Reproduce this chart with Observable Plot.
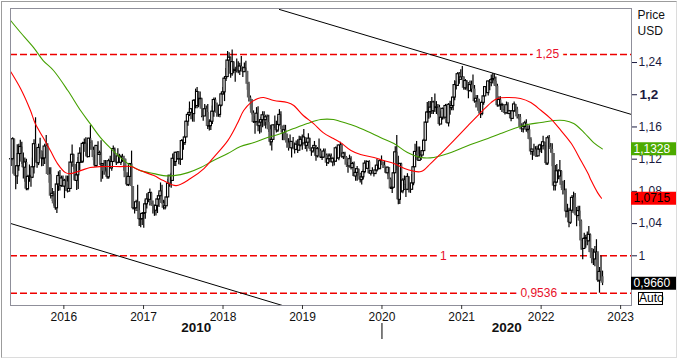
<!DOCTYPE html>
<html><head><meta charset="utf-8">
<script src="https://cdn.jsdelivr.net/npm/d3@7"></script>
<script src="https://cdn.jsdelivr.net/npm/@observablehq/plot@0.6"></script>
<style>
html,body{margin:0;padding:0;background:#fff;}
#wrap{position:relative;width:679px;height:359px;overflow:hidden;font-family:"Liberation Sans",Arial,sans-serif;}
#chart{position:absolute;left:0;top:0;}
#border{position:absolute;left:1px;top:1px;width:674px;height:355px;border-top:1px solid #9c9c9c;border-left:1px solid #9c9c9c;border-right:1px solid #dcdcdc;border-bottom:1px solid #dcdcdc;pointer-events:none;}
#auto{position:absolute;left:638px;top:292px;width:23px;height:11px;border:1px solid #000;font-size:12px;line-height:11px;text-align:center;background:#fff;color:#000;}
</style></head>
<body><div id="wrap"><div id="chart"></div><div id="auto">Auto</div><div id="border"></div></div>
<script>
// ---- weekly EUR/USD candles (week starting Monday), open = previous close ----
const startWeek = "2015-05-04";
const firstOpen = 1.1198;
const weeklyClose = [
 // 2015
 1.1200,1.1448,1.1013,1.0986, 1.1113,1.1264,1.1351,1.1163,1.1094, 1.1159,1.0828,1.0980,1.0982, 1.0970,1.1100,1.1386,1.1182,1.1150, 1.1339,1.1295,1.1200,1.1210, 1.1357,1.1350,1.1010,1.1006, 1.0740,1.0770,1.0645,1.0590,1.0886, 1.0990,1.0867,1.0960,1.0860,
 // 2016
 1.0932,1.0917,1.0797,1.0830, 1.1158,1.1255,1.1130,1.0930,1.1000, 1.1153,1.1268,1.1168,1.1390, 1.1400,1.1285,1.1225,1.1455, 1.1400,1.1310,1.1220,1.1115,1.1365, 1.1253,1.1275,1.1120,1.1140, 1.1050,1.1040,1.0975,1.1175, 1.1085,1.1165,1.1325,1.1200,1.1155, 1.1235,1.1155,1.1225,1.1205, 1.1200,1.0970,1.0880,1.0980,1.1140, 1.0860,1.0585,1.0590,1.0665, 1.0560,1.0450,1.0455,1.0520,
 // 2017
 1.0530,1.0640,1.0700,1.0695,1.0780, 1.0640,1.0615,1.0560,1.0620, 1.0700,1.0740,1.0800,1.0650, 1.0590,1.0615,1.0725,1.0895, 1.0995,1.0930,1.1205,1.1165,1.1280, 1.1195,1.1200,1.1195,1.1425, 1.1400,1.1470,1.1665,1.1750,1.1775, 1.1820,1.1760,1.1925,1.1860, 1.2035,1.1945,1.1950,1.1820, 1.1730,1.1820,1.1780,1.1605,1.1610, 1.1665,1.1790,1.1935,1.1895, 1.1770,1.1750,1.1865,1.2005,
 // 2018
 1.2030,1.2200,1.2220,1.2425,1.2460, 1.2255,1.2405,1.2295,1.2310, 1.2305,1.2290,1.2350,1.2320, 1.2280,1.2330,1.2290,1.2130,1.1960, 1.1935,1.1770,1.1655,1.1660, 1.1765,1.1610,1.1655,1.1685, 1.1745,1.1685,1.1720,1.1655,1.1565, 1.1410,1.1440,1.1620,1.1600, 1.1555,1.1625,1.1750,1.1605, 1.1525,1.1560,1.1510,1.1400,1.1385, 1.1335,1.1415,1.1335,1.1315, 1.1380,1.1305,1.1370,1.1440,1.1395,
 // 2019
 1.1470,1.1365,1.1405,1.1455, 1.1325,1.1295,1.1335,1.1365, 1.1235,1.1325,1.1300,1.1215, 1.1220,1.1295,1.1245,1.1150,1.1200, 1.1235,1.1160,1.1205,1.1170, 1.1335,1.1210,1.1370,1.1370, 1.1225,1.1270,1.1220,1.1125,1.1110, 1.1200,1.1090,1.1140,1.0985, 1.1030,1.1075,1.1015,1.0940,1.0975, 1.1040,1.1145,1.1080,1.1165, 1.1020,1.1050,1.1020,1.1015, 1.1060,1.1120,1.1080,1.1175,1.1160,
 // 2020
 1.1120,1.1090,1.1025,1.1095, 1.0945,1.0830,1.0845,1.1025, 1.1285,1.1105,1.0695,1.1140,1.0800, 1.0935,1.0875,1.0820,1.0980, 1.0840,1.0820,1.0900,1.1100, 1.1290,1.1255,1.1180,1.1220,1.1245, 1.1300,1.1430,1.1655,1.1780, 1.1785,1.1840,1.1795,1.1905,1.1835, 1.1845,1.1840,1.1630,1.1715, 1.1825,1.1715,1.1860,1.1645, 1.1875,1.1835,1.1860,1.1965,1.2120, 1.2110,1.2255,1.2185,1.2215,
 // 2021
 1.2215,1.2080,1.2170,1.2135, 1.2045,1.2120,1.2120,1.2070, 1.1915,1.1950,1.1905,1.1795,1.1760, 1.1900,1.1980,1.2095,1.2020, 1.2165,1.2150,1.2180,1.2195,1.2165, 1.2105,1.1865,1.1935,1.1865, 1.1875,1.1810,1.1770,1.1870, 1.1760,1.1795,1.1700,1.1795,1.1880, 1.1815,1.1725,1.1720,1.1595, 1.1570,1.1600,1.1645,1.1560, 1.1565,1.1445,1.1290,1.1320,1.1315, 1.1315,1.1235,1.1320,1.1370,
 // 2022
 1.1360,1.1410,1.1345,1.1145,1.1460, 1.1350,1.1320,1.1270,1.0865, 1.0910,1.1050,1.0985,1.1050, 1.0875,1.0810,1.0800,1.0545, 1.0550,1.0410,1.0560,1.0720,1.0720, 1.0520,1.0495,1.0555,1.0430, 1.0185,1.0085,1.0210,1.0220, 1.0180,1.0260,1.0040,0.9965,0.9955, 1.0040,1.0015,0.9690,0.9800, 0.9740,0.9660
];
const weeklyHigh = [
 // 2015
 1.1290,1.1467,1.1450,1.1032, 1.1380,1.1386,1.1436,1.1410,1.1278, 1.1215,1.1200,1.1000,1.1128, 1.1000,1.1214,1.1441,1.1714,1.1332, 1.1387,1.1460,1.1300,1.1260, 1.1385,1.1495,1.1390,1.1095, 1.1095,1.0835,1.0800,1.0690,1.0980, 1.1043,1.1060,1.0990,1.0990,
 // 2016
 1.0950,1.0990,1.0990,1.0985, 1.1200,1.1376,1.1260,1.1070,1.1040, 1.1220,1.1342,1.1280,1.1410, 1.1450,1.1465,1.1390,1.1460, 1.1616,1.1430,1.1350,1.1250,1.1370, 1.1415,1.1300,1.1428,1.1140, 1.1185,1.1185,1.1080,1.1200, 1.1235,1.1190,1.1365,1.1340,1.1235, 1.1330,1.1260,1.1250,1.1260, 1.1235,1.1165,1.1030,1.1000,1.1145, 1.1300,1.0830,1.0660,1.0690, 1.0875,1.0670,1.0470,1.0475,
 // 2017
 1.0630,1.0690,1.0770,1.0775,1.0830, 1.0790,1.0680,1.0630,1.0630, 1.0710,1.0780,1.0905,1.0875, 1.0690,1.0680,1.0780,1.0950, 1.0995,1.1025,1.1265,1.1270,1.1285, 1.1295,1.1295,1.1215,1.1445, 1.1440,1.1490,1.1680,1.1775,1.1910, 1.1830,1.1810,1.1940,1.2070, 1.2090,1.2000,1.2035,1.1955, 1.1790,1.1880,1.1860,1.1880,1.1690, 1.1680,1.1860,1.1960,1.1960, 1.1860,1.1860,1.1880,1.2025,
 // 2018
 1.2090,1.2220,1.2325,1.2537,1.2520, 1.2470,1.2555,1.2410,1.2340, 1.2445,1.2410,1.2390,1.2475, 1.2345,1.2395,1.2415,1.2290,1.2155, 1.1985,1.1940,1.1800,1.1730, 1.1840,1.1850,1.1660,1.1720, 1.1790,1.1790,1.1745,1.1750,1.1745, 1.1620,1.1445,1.1625,1.1735, 1.1670,1.1720,1.1815,1.1790, 1.1610,1.1620,1.1620,1.1500,1.1455, 1.1500,1.1420,1.1470,1.1400, 1.1425,1.1440,1.1485,1.1480,1.1500,
 // 2019
 1.1570,1.1470,1.1425,1.1515, 1.1460,1.1330,1.1370,1.1420, 1.1370,1.1345,1.1450,1.1325, 1.1255,1.1325,1.1325,1.1265,1.1265, 1.1265,1.1265,1.1215,1.1215, 1.1350,1.1350,1.1375,1.1410, 1.1385,1.1285,1.1285,1.1230,1.1160, 1.1250,1.1230,1.1160,1.1165, 1.1085,1.1110,1.1075,1.1025,1.0980, 1.1065,1.1180,1.1180,1.1175, 1.1180,1.1055,1.1095,1.1035, 1.1115,1.1200,1.1150,1.1190,1.1240,
 // 2020
 1.1165,1.1175,1.1100,1.1100, 1.1095,1.0965,1.0865,1.1055, 1.1355,1.1495,1.1235,1.1150,1.1150, 1.0960,1.0990,1.0890,1.1020, 1.0980,1.0875,1.1010,1.1145, 1.1385,1.1420,1.1350,1.1350,1.1300, 1.1370,1.1450,1.1655,1.1905, 1.1915,1.1915,1.1965,1.1920,1.2010, 1.1915,1.1880,1.1870,1.1790, 1.1835,1.1830,1.1880,1.1870, 1.1890,1.1920,1.1895,1.1965,1.2175, 1.2165,1.2275,1.2275,1.2310,
 // 2021
 1.2350,1.2225,1.2190,1.2175, 1.2150,1.2170,1.2170,1.2245, 1.2115,1.1990,1.1990,1.1945,1.1810, 1.1925,1.1995,1.2080,1.2150, 1.2170,1.2185,1.2245,1.2265,1.2255, 1.2220,1.2130,1.1975,1.1975, 1.1895,1.1880,1.1850,1.1910, 1.1900,1.1805,1.1800,1.1805,1.1910, 1.1880,1.1845,1.1755,1.1755, 1.1640,1.1625,1.1670,1.1690, 1.1615,1.1615,1.1465,1.1320,1.1385, 1.1355,1.1360,1.1360,1.1385,
 // 2022
 1.1365,1.1485,1.1370,1.1370,1.1485, 1.1495,1.1395,1.1390,1.1235, 1.1120,1.1135,1.1070,1.1185, 1.1055,1.0925,1.0935,1.0830, 1.0640,1.0590,1.0590,1.0750,1.0790, 1.0775,1.0600,1.0615,1.0615, 1.0445,1.0200,1.0280,1.0255, 1.0295,1.0365,1.0270,1.0090,1.0080, 1.0115,1.0200,1.0050,0.9855, 0.9999,0.9810
];
const weeklyLow = [
 // 2015
 1.1108,1.1177,1.0996,1.0819, 1.0887,1.1050,1.1183,1.1133,1.0954, 1.0915,1.0809,1.0808,1.0913, 1.0850,1.0959,1.1017,1.1160,1.1088, 1.1120,1.1260,1.1105,1.1110, 1.1133,1.1350,1.1000,1.0900, 1.0707,1.0675,1.0615,1.0565,1.0524, 1.0800,1.0805,1.0850,1.0850,
 // 2016
 1.0710,1.0800,1.0780,1.0810, 1.0830,1.1100,1.1070,1.0930,1.0810, 1.0823,1.1060,1.1145,1.1145, 1.1330,1.1235,1.1215,1.1220, 1.1385,1.1310,1.1180,1.1100,1.1100, 1.1260,1.1130,1.0912,1.0950, 1.1000,1.1030,1.0950,1.0950, 1.1080,1.1050,1.1160,1.1170,1.1120, 1.1140,1.1150,1.1120,1.1160, 1.1050,1.0970,1.0860,1.0860,1.0980, 1.0850,1.0570,1.0520,1.0550, 1.0550,1.0365,1.0350,1.0375,
 // 2017
 1.0341,1.0455,1.0580,1.0660,1.0620, 1.0620,1.0520,1.0490,1.0495, 1.0525,1.0600,1.0720,1.0640, 1.0570,1.0570,1.0640,1.0820, 1.0850,1.0840,1.0930,1.1110,1.1110, 1.1195,1.1130,1.1120,1.1185, 1.1310,1.1370,1.1480,1.1610,1.1730, 1.1690,1.1660,1.1660,1.1825, 1.1825,1.1840,1.1860,1.1715, 1.1670,1.1760,1.1730,1.1570,1.1550, 1.1555,1.1630,1.1720,1.1830, 1.1720,1.1720,1.1715,1.1850,
 // 2018
 1.1995,1.1915,1.2165,1.2215,1.2335, 1.2205,1.2230,1.2265,1.2155, 1.2270,1.2260,1.2240,1.2290, 1.2215,1.2285,1.2280,1.2055,1.1910, 1.1820,1.1750,1.1645,1.1510, 1.1650,1.1540,1.1510,1.1525, 1.1590,1.1610,1.1575,1.1615,1.1530, 1.1365,1.1300,1.1445,1.1580, 1.1525,1.1530,1.1605,1.1570, 1.1430,1.1430,1.1430,1.1335,1.1300, 1.1340,1.1215,1.1320,1.1265, 1.1315,1.1270,1.1340,1.1350,1.1310,
 // 2019
 1.1400,1.1320,1.1290,1.1405, 1.1320,1.1235,1.1275,1.1355, 1.1175,1.1215,1.1280,1.1210, 1.1185,1.1210,1.1225,1.1110,1.1135, 1.1160,1.1155,1.1105,1.1115, 1.1160,1.1200,1.1180,1.1345, 1.1210,1.1195,1.1200,1.1100,1.1025, 1.1090,1.1065,1.1050,1.0985, 1.0925,1.0925,1.0990,1.0905,1.0880, 1.0940,1.1020,1.1075,1.1070, 1.1015,1.0990,1.1015,1.0980, 1.1015,1.1040,1.1065,1.1065,1.1125,
 // 2020
 1.1085,1.1090,1.1020,1.0990, 1.0945,1.0830,1.0775,1.0845, 1.1055,1.1055,1.0635,1.0636,1.0780, 1.0770,1.0810,1.0725,1.0810, 1.0780,1.0775,1.0870,1.0870, 1.1110,1.1240,1.1170,1.1170,1.1185, 1.1250,1.1330,1.1420,1.1650, 1.1695,1.1710,1.1755,1.1755,1.1780, 1.1755,1.1740,1.1610,1.1630, 1.1685,1.1690,1.1700,1.1640, 1.1600,1.1745,1.1800,1.1800,1.1925, 1.2060,1.2110,1.2130,1.2190,
 // 2021
 1.2195,1.2055,1.2055,1.2060, 1.1950,1.2035,1.2025,1.2070, 1.1895,1.1835,1.1875,1.1760,1.1705, 1.1740,1.1870,1.1990,1.2015, 1.1985,1.2050,1.2100,1.2135,1.2105, 1.2095,1.1845,1.1845,1.1805, 1.1780,1.1770,1.1750,1.1760, 1.1755,1.1705,1.1665,1.1700,1.1780, 1.1770,1.1700,1.1685,1.1565, 1.1530,1.1525,1.1585,1.1535, 1.1515,1.1435,1.1250,1.1185,1.1235, 1.1225,1.1220,1.1265,1.1280,
 // 2022
 1.1270,1.1315,1.1300,1.1120,1.1120, 1.1345,1.1280,1.1105,1.0805, 1.0805,1.0900,1.0945,1.0945, 1.0835,1.0755,1.0760,1.0470, 1.0490,1.0350,1.0390,1.0530,1.0630, 1.0500,1.0360,1.0470,1.0360, 1.0070,0.9950,1.0080,1.0095, 1.0125,1.0170,1.0035,0.9900,0.9880, 0.9865,0.9955,0.9670,0.9536, 0.9725,0.9630
];

// ---- moving averages: [decimal year, value] ----
const maRed = [
 [2015.33,1.2288],[2015.455,1.2077],[2015.58,1.1804],[2015.64,1.1642],[2015.74,1.1468],[2015.83,1.1307],[2015.92,1.1145],
 [2016.02,1.1033],[2016.08,1.1021],[2016.21,1.1058],[2016.33,1.1096],[2016.46,1.1108],[2016.71,1.1108],[2016.84,1.1108],[2016.96,1.1058],
 [2017.13,1.0996],[2017.25,1.0934],[2017.41,1.0872],[2017.59,1.0959],[2017.76,1.1083],[2017.88,1.1220],
 [2018.06,1.1431],[2018.18,1.1642],[2018.26,1.1804],[2018.35,1.1903],[2018.44,1.1953],[2018.51,1.1965],[2018.64,1.1928],[2018.81,1.1903],[2018.89,1.1866],
 [2019.01,1.1742],[2019.14,1.1642],[2019.26,1.1530],[2019.39,1.1456],[2019.48,1.1406],[2019.61,1.1307],[2019.73,1.1257],[2019.90,1.1220],
 [2020.02,1.1183],[2020.15,1.1145],[2020.32,1.1071],[2020.49,1.1046],[2020.61,1.1145],[2020.74,1.1270],[2020.90,1.1431],
 [2021.08,1.1617],[2021.24,1.1779],[2021.37,1.1903],[2021.45,1.1953],[2021.58,1.1965],[2021.74,1.1953],[2021.87,1.1903],
 [2022.00,1.1804],[2022.12,1.1704],[2022.25,1.1555],[2022.38,1.1394],[2022.50,1.1183],[2022.59,1.1021],[2022.63,1.0934],[2022.71,1.0785],[2022.76,1.0715]
];
const maGreen = [
 [2015.33,1.2922],[2015.455,1.2773],[2015.62,1.2586],[2015.74,1.2425],[2015.87,1.2301],
 [2016.05,1.2052],[2016.21,1.1804],[2016.33,1.1642],[2016.46,1.1468],[2016.59,1.1332],[2016.71,1.1220],[2016.84,1.1120],[2016.96,1.1058],
 [2017.13,1.1021],[2017.25,1.0996],[2017.38,1.0996],[2017.56,1.1033],[2017.72,1.1096],[2017.88,1.1183],
 [2018.06,1.1270],[2018.22,1.1357],[2018.39,1.1406],[2018.56,1.1468],[2018.73,1.1518],[2018.89,1.1580],
 [2019.06,1.1642],[2019.23,1.1692],[2019.39,1.1692],[2019.48,1.1667],[2019.64,1.1617],[2019.82,1.1543],[2019.98,1.1468],
 [2020.15,1.1394],[2020.32,1.1282],[2020.49,1.1220],[2020.65,1.1220],[2020.83,1.1270],[2020.99,1.1332],
 [2021.15,1.1394],[2021.33,1.1456],[2021.49,1.1518],[2021.66,1.1580],[2021.83,1.1630],
 [2022.00,1.1655],[2022.16,1.1680],[2022.29,1.1680],[2022.41,1.1642],[2022.54,1.1530],[2022.66,1.1406],[2022.77,1.1328]
];

// ---- trend channel (two points each) ----
const trendUpper = [["2018-09-17",1.3059],["2023-02-20",1.1755]];
const trendLower = [["2015-05-01",1.0402],["2018-10-01",0.9383]];

// ---- horizontal levels ----
const levelValues = [1.25, 1, 0.9536];
const levelLabelYears = [2022.08, 2020.77, 2021.97];

// ---- axis ----
const yTicks = [1, 1.04, 1.08, 1.12, 1.16, 1.2, 1.24];
const boldTick = 1.2;
const yearTicks = [2016, 2017, 2018, 2019, 2020, 2021, 2022, 2023];
const decades = [{label: "2010", from: null, to: 2020}, {label: "2020", from: 2020, to: null}];
const xDomain = ["2015-05-01", "2023-02-20"];
const yDomain = [0.9383, 1.3071];

// ---- last values ----
const lastValues = [
 {value: 1.1328, bg: "#4caa00", fg: "#ffffff"},
 {value: 1.0715, bg: "#ff0000", fg: "#000000"},
 {value: 0.9660, bg: "#000000", fg: "#ffffff"}
];

const comma = (v, n) => (n == null ? String(+v.toFixed(4)) : v.toFixed(n)).replace(".", ",");
const yearToDate = y => { const f = Math.floor(y); const a = Date.UTC(f,0,1), b = Date.UTC(f+1,0,1); return new Date(a + (y-f)*(b-a)); };
const DAY = 864e5;

const n = Math.min(weeklyClose.length, weeklyHigh.length, weeklyLow.length);
const candles = [];
for (let i = 0; i < n; i++) {
  const open = i ? weeklyClose[i-1] : firstOpen;
  const close = weeklyClose[i];
  candles.push({
    date: d3.utcMonday.offset(new Date(startWeek), i),
    open, close,
    high: Math.max(weeklyHigh[i], open, close),
    low: Math.min(weeklyLow[i], open, close)
  });
}
const up = candles.filter(d => d.close >= d.open);
const down = candles.filter(d => d.close < d.open);

const xd = xDomain.map(s => new Date(s));
const decadeMarks = decades.map(d => {
  const a = d.from == null ? xd[0] : yearToDate(d.from);
  const b = d.to == null ? xd[1] : yearToDate(d.to);
  return {label: d.label, mid: new Date((+a + +b) / 2)};
});

const redPts = maRed.map(([y, v]) => ({date: yearToDate(y), v}));
const greenPts = maGreen.map(([y, v]) => ({date: yearToDate(y), v}));
const up2 = trendUpper.map(([d, v]) => ({date: new Date(d), v}));
const lo2 = trendLower.map(([d, v]) => ({date: new Date(d), v}));
const levelLabels = levelValues.map((v, i) => ({v, date: yearToDate(levelLabelYears[i]), text: comma(v)}));

const chart = Plot.plot({
  width: 679, height: 359,
  marginLeft: 10, marginRight: 48, marginTop: 8, marginBottom: 54,
  x: {type: "utc", domain: xd},
  y: {domain: yDomain},
  color: {type: "identity"},
  style: {background: "transparent", fontFamily: "'Liberation Sans', Arial, sans-serif", fontSize: "12px", color: "#000", overflow: "visible"},
  marks: [
    Plot.ruleY(levelValues, {y: d => d, stroke: "#ee0000", strokeWidth: 1.5, strokeDasharray: "7,3"}),
    Plot.line(up2, {x: "date", y: "v", stroke: "#000", strokeWidth: 1, clip: true}),
    Plot.line(lo2, {x: "date", y: "v", stroke: "#000", strokeWidth: 1, clip: true}),
    Plot.ruleX(candles, {x: "date", y1: "low", y2: "high", stroke: "#000", strokeWidth: 1.2}),
    Plot.rect(down, {x1: d => new Date(+d.date - 7*DAY), x2: d => new Date(+d.date + 7*DAY), y1: "open", y2: "close", fill: "#626262"}),
    Plot.rect(up, {x1: d => new Date(+d.date - 5.2*DAY), x2: d => new Date(+d.date + 5.2*DAY), y1: "open", y2: "close", fill: "#fff", stroke: "#000", strokeWidth: 1.1}),
    Plot.line(greenPts, {x: "date", y: "v", stroke: "#44a000", strokeWidth: 1.1, curve: "catmull-rom"}),
    Plot.line(redPts, {x: "date", y: "v", stroke: "#ff0000", strokeWidth: 1.1, curve: "catmull-rom"}),
    Plot.text(levelLabels, {x: "date", y: "v", text: "text", fill: "#fff", stroke: "#fff", strokeWidth: 9, fontSize: 12}),
    Plot.text(levelLabels, {x: "date", y: "v", text: "text", fill: "#e8102a", fontSize: 12}),
    Plot.frame({stroke: "#8f8f9a"}),
    Plot.axisY({anchor: "right", ticks: yTicks, tickSize: 5, tickPadding: 2, tickFormat: d => d === boldTick ? "" : comma(d), fill: "#1a1a40", stroke: "#1a1a40", fontSize: 12}),
    Plot.text([boldTick], {y: d => d, frameAnchor: "right", dx: 8, textAnchor: "start", text: d => comma(d), fontWeight: "bold", fontSize: 13.5, fill: "#1a1a40"}),
    Plot.ruleY(lastValues, {y: "value", stroke: "bg", strokeWidth: 13, insetLeft: 621, insetRight: -45}),
    Plot.text(lastValues, {y: "value", text: d => comma(d.value, 4), fill: "fg", frameAnchor: "right", dx: 2, textAnchor: "start", fontSize: 12}),
    Plot.axisX({anchor: "bottom", ticks: yearTicks.map(y => yearToDate(y)), tickFormat: d => d3.utcFormat("%Y")(d), tickSize: 4, tickPadding: 3, fontSize: 12, fill: "#111", stroke: "#333"}),
    Plot.text(decadeMarks, {x: "mid", text: "label", frameAnchor: "bottom", dy: 26, fontWeight: "bold", fontSize: 13.5, fill: "#111"}),
    Plot.ruleX([yearToDate(2020)], {x: d => d, insetTop: 315, insetBottom: -34, stroke: "#000"}),
    Plot.text(["Price"], {frameAnchor: "top-right", text: d => d, dx: 6, dy: 2, textAnchor: "start", lineAnchor: "top", fontSize: 12, fill: "#111"}),
    Plot.text(["USD"], {frameAnchor: "top-right", text: d => d, dx: 6, dy: 18, textAnchor: "start", lineAnchor: "top", fontSize: 12, fill: "#111"})
  ]
});
document.getElementById("chart").appendChild(chart);
</script></body></html>
